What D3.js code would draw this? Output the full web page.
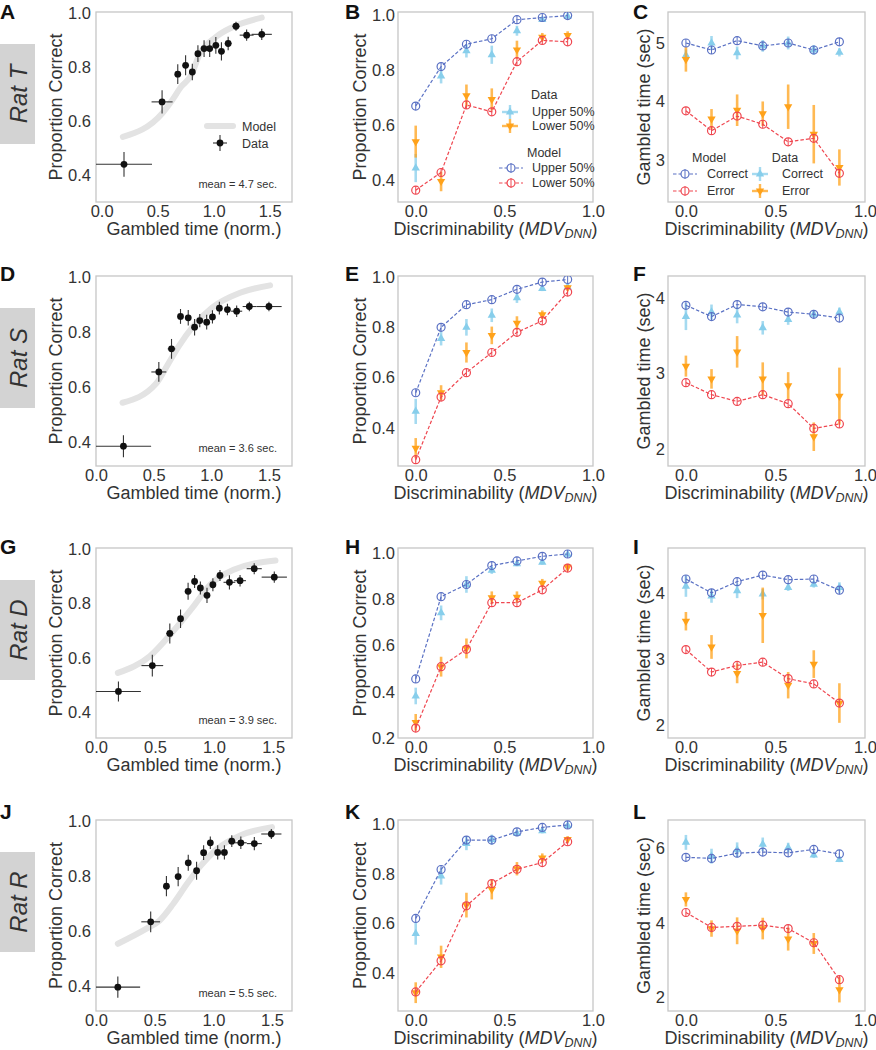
<!DOCTYPE html>
<html>
<head>
<meta charset="utf-8">
<script src="https://cdn.jsdelivr.net/npm/d3@7.9.0/dist/d3.min.js"></script>
<style>
  body { margin: 0; background: #fff; }
  svg text { font-family: "Liberation Sans", Arial, sans-serif; fill: #333; }
</style>
</head>
<body>
<svg id="fig" width="876" height="1050"></svg>
<script>
// ---- shared x values (discriminability bins) ----
const mdv = [0, 0.143, 0.286, 0.429, 0.571, 0.714, 0.857];
const ratNames = ['Rat T', 'Rat S', 'Rat D', 'Rat R'];
const meanTexts = ['mean = 4.7 sec.', 'mean = 3.6 sec.', 'mean = 3.9 sec.', 'mean = 5.5 sec.'];
const panelLetters = [['A', 'B', 'C'], ['D', 'E', 'F'], ['G', 'H', 'I'], ['J', 'K', 'L']];

// ---- Rat T (A, B, C) ----
const tTime = [0.20, 0.54, 0.68, 0.75, 0.81, 0.86, 0.915, 0.965, 1.02, 1.07, 1.13, 1.20, 1.295, 1.43];
const tPc = [0.44, 0.672, 0.775, 0.808, 0.783, 0.851, 0.87, 0.87, 0.882, 0.86, 0.889, 0.953, 0.92, 0.923];
const tTimeErr = [0.25, 0.094, 0.015, 0.015, 0.015, 0.015, 0.015, 0.015, 0.015, 0.015, 0.03, 0.033, 0.062, 0.09];
const tPcErr = [0.046, 0.043, 0.037, 0.037, 0.031, 0.031, 0.031, 0.031, 0.031, 0.034, 0.025, 0.017, 0.021, 0.021];
const tModelX = [0.19, 0.54, 0.63, 0.71, 0.80, 0.87, 1.02, 1.17, 1.43];
const tModelY = [0.542, 0.629, 0.678, 0.728, 0.771, 0.845, 0.913, 0.95, 0.985];

const tUpModel = [0.669, 0.812, 0.893, 0.913, 0.982, 0.99, 0.997];
const tLoModel = [0.364, 0.428, 0.673, 0.648, 0.830, 0.907, 0.902];
const tUpData = [0.444, 0.778, 0.869, 0.855, 0.942, 0.982, 0.994];
const tUpErr = [0.051, 0.027, 0.024, 0.033, 0.018, 0.008, 0.008];
const tLoData = [0.54, 0.396, 0.707, 0.693, 0.873, 0.919, 0.925];
const tLoErr = [0.058, 0.036, 0.04, 0.04, 0.033, 0.015, 0.015];

const tCorModel = [5.0, 4.88, 5.04, 4.95, 5.0, 4.88, 5.02];
const tErrModel = [3.84, 3.50, 3.75, 3.61, 3.31, 3.37, 2.77];
const tCorData = [4.79, 5.0, 4.83, 4.95, 5.0, 4.88, 4.84];
const tCorErr = [0.1, 0.12, 0.11, 0.1, 0.11, 0.085, 0.07];
const tErrData = [4.72, 3.70, 3.85, 3.79, 3.91, 3.44, 2.87];
const tErrErr = [0.21, 0.17, 0.27, 0.21, 0.38, 0.5, 0.31];

// ---- Rat S (D, E, F) ----
const sTime = [0.238, 0.545, 0.655, 0.733, 0.80, 0.855, 0.90, 0.96, 1.01, 1.07, 1.14, 1.22, 1.33, 1.50];
const sPc = [0.385, 0.655, 0.739, 0.857, 0.852, 0.818, 0.842, 0.836, 0.855, 0.887, 0.882, 0.876, 0.893, 0.893];
const sTimeErr = [0.24, 0.065, 0.033, 0.02, 0.02, 0.02, 0.02, 0.02, 0.02, 0.02, 0.02, 0.048, 0.058, 0.11];
const sPcErr = [0.04, 0.036, 0.036, 0.027, 0.028, 0.03, 0.024, 0.027, 0.024, 0.023, 0.021, 0.021, 0.017, 0.017];
const sModelX = [0.23, 0.52, 0.62, 0.72, 0.84, 1.01, 1.25, 1.51];
const sModelY = [0.543, 0.612, 0.68, 0.75, 0.82, 0.89, 0.943, 0.97];

const sUpModel = [0.54, 0.80, 0.89, 0.91, 0.951, 0.98, 0.99];
const sLoModel = [0.274, 0.523, 0.62, 0.70, 0.78, 0.826, 0.94];
const sUpData = [0.466, 0.755, 0.80, 0.848, 0.917, 0.954, 0.96];
const sUpErr = [0.05, 0.027, 0.033, 0.027, 0.02, 0.01, 0.01];
const sLoData = [0.32, 0.54, 0.70, 0.768, 0.817, 0.85, 0.958];
const sLoErr = [0.04, 0.03, 0.04, 0.035, 0.027, 0.017, 0.01];

const sCorModel = [3.91, 3.76, 3.92, 3.89, 3.82, 3.79, 3.74];
const sErrModel = [2.88, 2.72, 2.63, 2.72, 2.60, 2.27, 2.33];
const sCorData = [3.76, 3.82, 3.78, 3.61, 3.72, 3.79, 3.82];
const sCorErr = [0.18, 0.1, 0.11, 0.09, 0.07, 0.05, 0.06];
const sErrData = [3.10, 2.93, 3.29, 2.93, 2.84, 2.16, 2.70];
const sErrErr = [0.14, 0.13, 0.21, 0.22, 0.18, 0.19, 0.38];

// ---- Rat D (G, H, I) ----
const dTime = [0.19, 0.477, 0.625, 0.716, 0.78, 0.835, 0.884, 0.94, 0.99, 1.05, 1.13, 1.22, 1.34, 1.51];
const dPc = [0.477, 0.572, 0.69, 0.744, 0.845, 0.881, 0.857, 0.83, 0.869, 0.903, 0.878, 0.884, 0.928, 0.897];
const dTimeErr = [0.19, 0.092, 0.03, 0.02, 0.02, 0.02, 0.02, 0.02, 0.02, 0.02, 0.05, 0.05, 0.064, 0.107];
const dPcErr = [0.037, 0.04, 0.037, 0.034, 0.031, 0.024, 0.024, 0.028, 0.024, 0.02, 0.026, 0.021, 0.02, 0.021];
const dModelX = [0.185, 0.455, 0.653, 0.824, 0.966, 1.165, 1.52];
const dModelY = [0.545, 0.606, 0.698, 0.789, 0.869, 0.924, 0.958];

const dUpModel = [0.456, 0.812, 0.865, 0.947, 0.967, 0.987, 0.997];
const dLoModel = [0.243, 0.509, 0.584, 0.786, 0.786, 0.842, 0.936];
const dUpData = [0.382, 0.742, 0.865, 0.926, 0.954, 0.961, 0.995];
const dUpErr = [0.036, 0.032, 0.036, 0.015, 0.01, 0.01, 0.008];
const dLoData = [0.268, 0.509, 0.588, 0.808, 0.81, 0.871, 0.94];
const dLoErr = [0.036, 0.043, 0.043, 0.027, 0.025, 0.018, 0.015];

const dCorModel = [4.22, 4.01, 4.18, 4.28, 4.21, 4.22, 4.05];
const dErrModel = [3.15, 2.81, 2.91, 2.96, 2.71, 2.63, 2.34];
const dCorData = [4.11, 3.96, 4.04, 3.99, 4.09, 4.14, 4.09];
const dCorErr = [0.16, 0.1, 0.11, 0.08, 0.05, 0.05, 0.08];
const dErrData = [3.58, 3.19, 2.79, 3.67, 2.61, 2.93, 2.34];
const dErrErr = [0.14, 0.18, 0.15, 0.42, 0.2, 0.21, 0.3];

// ---- Rat R (J, K, L) ----
const rTime = [0.186, 0.466, 0.60, 0.70, 0.786, 0.857, 0.917, 0.974, 1.037, 1.094, 1.157, 1.234, 1.349, 1.494];
const rPc = [0.397, 0.635, 0.765, 0.80, 0.85, 0.821, 0.887, 0.923, 0.888, 0.888, 0.929, 0.923, 0.92, 0.955];
const rTimeErr = [0.19, 0.08, 0.02, 0.02, 0.02, 0.02, 0.02, 0.02, 0.02, 0.02, 0.03, 0.05, 0.064, 0.086];
const rPcErr = [0.039, 0.038, 0.037, 0.035, 0.029, 0.033, 0.027, 0.023, 0.026, 0.026, 0.021, 0.023, 0.024, 0.018];
const rModelX = [0.186, 0.43, 0.543, 0.657, 0.77, 0.886, 1.03, 1.23, 1.5];
const rModelY = [0.555, 0.61, 0.64, 0.70, 0.77, 0.836, 0.90, 0.95, 0.98];

const rUpModel = [0.62, 0.818, 0.937, 0.937, 0.97, 0.988, 0.998];
const rLoModel = [0.323, 0.449, 0.671, 0.761, 0.819, 0.846, 0.93];
const rUpData = [0.559, 0.791, 0.923, 0.939, 0.964, 0.974, 0.995];
const rUpErr = [0.045, 0.034, 0.027, 0.02, 0.012, 0.01, 0.008];
const rLoData = [0.32, 0.465, 0.674, 0.737, 0.821, 0.865, 0.94];
const rLoErr = [0.042, 0.045, 0.05, 0.04, 0.027, 0.018, 0.013];

const rCorModel = [5.76, 5.73, 5.87, 5.90, 5.88, 5.97, 5.85];
const rErrModel = [4.28, 3.88, 3.91, 3.94, 3.85, 3.47, 2.48];
const rCorData = [6.16, 5.79, 5.96, 6.11, 6.02, 5.82, 5.70];
const rCorErr = [0.2, 0.2, 0.2, 0.18, 0.13, 0.08, 0.07];
const rErrData = [4.63, 3.85, 3.79, 3.85, 3.57, 3.45, 2.21];
const rErrErr = [0.19, 0.22, 0.36, 0.29, 0.31, 0.28, 0.34];

// ---- axis ranges and ticks ----
const gambleXDom = [[-0.05, 1.70], [0, 1.70], [0, 1.66], [0, 1.67]];
const gambleYDom = [[0.30, 1.006], [0.313, 1.004], [0.306, 1.004], [0.31, 1.006]];
const splitYDom = [[0.321, 1.01], [0.249, 1.004], [0.2, 1.023], [0.246, 1.018]];
const timeYDom = [[2.28, 5.53], [1.77, 4.30], [1.81, 4.69], [1.64, 6.76]];
const gambleXTicks = [0, 0.5, 1.0, 1.5];
const mdvTicks = [0, 0.5, 1.0];
const pcTicks = [[0.4, 0.6, 0.8, 1.0], [0.4, 0.6, 0.8, 1.0], [0.4, 0.6, 0.8, 1.0], [0.4, 0.6, 0.8, 1.0]];
const splitTicks = [[0.4, 0.6, 0.8, 1.0], [0.4, 0.6, 0.8, 1.0], [0.2, 0.4, 0.6, 0.8, 1.0], [0.4, 0.6, 0.8, 1.0]];
const timeTicks = [[3, 4, 5], [2, 3, 4], [2, 3, 4], [2, 4, 6]];

// Layout
const svg = d3.select('#fig');
const colX = [[96, 292], [398, 593], [668, 865]];
const rowY = [[12, 202], [276, 466], [548, 738], [820, 1011]];
const letterX = [0, 345, 633];
const letterBase = [19, 281, 554, 819];
const BLUE = '#5a71c4', RED = '#ef4750', SKY = '#87ceeb', ORANGE = '#ffa21a';
const fmt1 = d3.format('.1f');

let clipCount = 0;
function makePanel(col, row, xDom, yDom, xTicks, yTicks, yFmt) {
  const [x0, x1] = colX[col];
  const [y0, y1] = rowY[row];
  const x = d3.scaleLinear().domain(xDom).range([x0, x1]);
  const y = d3.scaleLinear().domain(yDom).range([y1, y0]);
  const g = svg.append('g');
  const id = 'clip' + (clipCount++);
  svg.append('clipPath').attr('id', id)
    .append('rect').attr('x', x0).attr('y', y0).attr('width', x1 - x0).attr('height', y1 - y0);

  g.append('g')
    .attr('transform', `translate(0,${y1})`)
    .call(d3.axisBottom(x).tickValues(xTicks).tickFormat(fmt1).tickSize(0).tickPadding(3))
    .call(a => a.select('.domain').remove());
  g.append('g')
    .attr('transform', `translate(${x0},0)`)
    .call(d3.axisLeft(y).tickValues(yTicks).tickFormat(yFmt).tickSize(0).tickPadding(col === 0 ? 5 : 3))
    .call(a => a.select('.domain').remove());
  g.selectAll('.tick text').attr('font-size', 16.5);

  g.append('rect')
    .attr('x', x0).attr('y', y0).attr('width', x1 - x0).attr('height', y1 - y0)
    .attr('fill', 'none').attr('stroke', '#c6c6c6').attr('stroke-width', 1.3);

  const plot = g.append('g').attr('clip-path', `url(#${id})`);
  return { x, y, g, plot, x0, x1, y0, y1 };
}

function yTitle(p, text, offset) {
  p.g.append('text')
    .attr('transform', `translate(${p.x0 - offset},${(p.y0 + p.y1) / 2}) rotate(-90)`)
    .attr('text-anchor', 'middle').attr('font-size', 18)
    .text(text);
}

function xTitleGamble(p) {
  p.g.append('text')
    .attr('x', (p.x0 + p.x1) / 2).attr('y', p.y1 + 33)
    .attr('text-anchor', 'middle').attr('font-size', 18)
    .text('Gambled time (norm.)');
}

function xTitleMdv(p) {
  const t = p.g.append('text')
    .attr('x', (p.x0 + p.x1) / 2).attr('y', p.y1 + 33)
    .attr('text-anchor', 'middle').attr('font-size', 18);
  t.append('tspan').text('Discriminability (');
  t.append('tspan').attr('font-style', 'italic').text('MDV');
  t.append('tspan').attr('font-style', 'italic').attr('font-size', 12.5).attr('dy', 3).text('DNN');
  t.append('tspan').attr('dy', -3).text(')');
}

// Column 1: proportion correct vs gambled time
function drawGamble(p, time, pc, timeErr, pcErr, modelX, modelY, mean) {
  const line = d3.line().x(d => p.x(d[0])).y(d => p.y(d[1])).curve(d3.curveMonotoneX);
  p.plot.append('path')
    .datum(d3.zip(modelX, modelY))
    .attr('d', line)
    .attr('fill', 'none').attr('stroke', '#e3e3e3')
    .attr('stroke-width', 6).attr('stroke-linecap', 'round');

  const pts = time.map((t, i) => ({ x: t, y: pc[i], ex: timeErr[i], ey: pcErr[i] }));
  const sel = p.plot.selectAll('g.pt').data(pts).join('g').attr('class', 'pt');
  sel.append('line')
    .attr('x1', d => p.x(d.x - d.ex)).attr('x2', d => p.x(d.x + d.ex))
    .attr('y1', d => p.y(d.y)).attr('y2', d => p.y(d.y))
    .attr('stroke', '#333').attr('stroke-width', 1.1);
  sel.append('line')
    .attr('x1', d => p.x(d.x)).attr('x2', d => p.x(d.x))
    .attr('y1', d => p.y(d.y - d.ey)).attr('y2', d => p.y(d.y + d.ey))
    .attr('stroke', '#333').attr('stroke-width', 1.1);
  sel.append('circle')
    .attr('cx', d => p.x(d.x)).attr('cy', d => p.y(d.y)).attr('r', 3.4)
    .attr('fill', '#111');

  p.g.append('text')
    .attr('x', p.x1 - 15).attr('y', p.y1 - 14)
    .attr('text-anchor', 'end').attr('font-size', 11)
    .text(mean);
}

const triUp = d3.symbol(d3.symbolTriangle, 30)();

function dataMarks(p, xs, vals, errs, color, up) {
  const pts = xs.map((x, i) => ({ x, y: vals[i], e: errs[i] }));
  const g = p.plot.append('g');
  g.selectAll('line').data(pts).join('line')
    .attr('x1', d => p.x(d.x)).attr('x2', d => p.x(d.x))
    .attr('y1', d => p.y(d.y - d.e)).attr('y2', d => p.y(d.y + d.e))
    .attr('stroke', color).attr('stroke-width', 2.6).attr('stroke-opacity', 0.75);
  g.selectAll('path').data(pts).join('path')
    .attr('d', triUp)
    .attr('transform', d => `translate(${p.x(d.x)},${p.y(d.y)}) rotate(${up ? 0 : 180})`)
    .attr('fill', color);
}

function modelMarks(p, xs, vals, color) {
  const pts = xs.map((x, i) => [x, vals[i]]);
  const g = p.plot.append('g');
  g.append('path')
    .datum(pts)
    .attr('d', d3.line().x(d => p.x(d[0])).y(d => p.y(d[1])))
    .attr('fill', 'none').attr('stroke', color)
    .attr('stroke-width', 1.2).attr('stroke-dasharray', '3.5,2');
  g.selectAll('circle').data(pts).join('circle')
    .attr('cx', d => p.x(d[0])).attr('cy', d => p.y(d[1])).attr('r', 4)
    .attr('fill', 'none').attr('stroke', color).attr('stroke-width', 1.2);
  g.selectAll('line').data(pts).join('line')
    .attr('x1', d => p.x(d[0])).attr('x2', d => p.x(d[0]))
    .attr('y1', d => p.y(d[1]) - 4).attr('y2', d => p.y(d[1]) + 4)
    .attr('stroke', color).attr('stroke-width', 1);
}

function drawSplit(p, hiModel, loModel, hiData, hiErr, loData, loErr) {
  dataMarks(p, mdv, hiData, hiErr, SKY, true);
  dataMarks(p, mdv, loData, loErr, ORANGE, false);
  modelMarks(p, mdv, hiModel, BLUE);
  modelMarks(p, mdv, loModel, RED);
}

// Legend pieces
function legendData(g, cx, cy, color, up) {
  g.append('line').attr('x1', cx - 8).attr('x2', cx + 8).attr('y1', cy).attr('y2', cy)
    .attr('stroke', color).attr('stroke-width', 2.4).attr('stroke-opacity', 0.75);
  g.append('line').attr('x1', cx).attr('x2', cx).attr('y1', cy - 7).attr('y2', cy + 7)
    .attr('stroke', color).attr('stroke-width', 2.4).attr('stroke-opacity', 0.75);
  g.append('path').attr('d', triUp)
    .attr('transform', `translate(${cx},${cy}) rotate(${up ? 0 : 180})`)
    .attr('fill', color);
}

function legendModel(g, xa, xb, cy, color) {
  g.append('line').attr('x1', xa).attr('x2', xb).attr('y1', cy).attr('y2', cy)
    .attr('stroke', color).attr('stroke-width', 1.2).attr('stroke-dasharray', '3.5,2');
  const cx = (xa + xb) / 2;
  g.append('circle').attr('cx', cx).attr('cy', cy).attr('r', 4)
    .attr('fill', '#fff').attr('stroke', color).attr('stroke-width', 1.2);
  g.append('line').attr('x1', cx).attr('x2', cx).attr('y1', cy - 5).attr('y2', cy + 5)
    .attr('stroke', color).attr('stroke-width', 1);
}

function legendText(g, x, y, text, anchor) {
  g.append('text').attr('x', x).attr('y', y).attr('font-size', 12.5)
    .attr('text-anchor', anchor || 'start').text(text);
}

// ---- build all rows ----
const rowsData = [
  { time: tTime, pc: tPc, timeErr: tTimeErr, pcErr: tPcErr, mX: tModelX, mY: tModelY,
    hiM: tUpModel, loM: tLoModel, hiD: tUpData, hiE: tUpErr, loD: tLoData, loE: tLoErr,
    cM: tCorModel, eM: tErrModel, cD: tCorData, cE: tCorErr, eD: tErrData, eE: tErrErr },
  { time: sTime, pc: sPc, timeErr: sTimeErr, pcErr: sPcErr, mX: sModelX, mY: sModelY,
    hiM: sUpModel, loM: sLoModel, hiD: sUpData, hiE: sUpErr, loD: sLoData, loE: sLoErr,
    cM: sCorModel, eM: sErrModel, cD: sCorData, cE: sCorErr, eD: sErrData, eE: sErrErr },
  { time: dTime, pc: dPc, timeErr: dTimeErr, pcErr: dPcErr, mX: dModelX, mY: dModelY,
    hiM: dUpModel, loM: dLoModel, hiD: dUpData, hiE: dUpErr, loD: dLoData, loE: dLoErr,
    cM: dCorModel, eM: dErrModel, cD: dCorData, cE: dCorErr, eD: dErrData, eE: dErrErr },
  { time: rTime, pc: rPc, timeErr: rTimeErr, pcErr: rPcErr, mX: rModelX, mY: rModelY,
    hiM: rUpModel, loM: rLoModel, hiD: rUpData, hiE: rUpErr, loD: rLoData, loE: rLoErr,
    cM: rCorModel, eM: rErrModel, cD: rCorData, cE: rCorErr, eD: rErrData, eE: rErrErr }
];

const panels = [];
rowsData.forEach((r, row) => {
  // rat name tab
  const tabTop = rowY[row][0] + 32;
  svg.append('rect').attr('x', 0).attr('y', tabTop).attr('width', 35).attr('height', 100)
    .attr('fill', '#d3d3d3');
  svg.append('text')
    .attr('transform', `translate(27,${tabTop + 50}) rotate(-90)`)
    .attr('text-anchor', 'middle').attr('font-size', 24).attr('font-style', 'italic')
    .text(ratNames[row]);

  const pA = makePanel(0, row, gambleXDom[row], gambleYDom[row], gambleXTicks, pcTicks[row], fmt1);
  drawGamble(pA, r.time, r.pc, r.timeErr, r.pcErr, r.mX, r.mY, meanTexts[row]);
  yTitle(pA, 'Proportion Correct', 34.5);
  xTitleGamble(pA);

  const pB = makePanel(1, row, [-0.1, 1.0], splitYDom[row], mdvTicks, splitTicks[row], fmt1);
  drawSplit(pB, r.hiM, r.loM, r.hiD, r.hiE, r.loD, r.loE);
  yTitle(pB, 'Proportion Correct', 32.5);
  xTitleMdv(pB);

  const pC = makePanel(2, row, [-0.1, 1.0], timeYDom[row], mdvTicks, timeTicks[row], d3.format('d'));
  drawSplit(pC, r.cM, r.eM, r.cD, r.cE, r.eD, r.eE);
  yTitle(pC, 'Gambled time (sec)', 18);
  xTitleMdv(pC);

  panels.push([pA, pB, pC]);

  panelLetters[row].forEach((L, c) => {
    svg.append('text').attr('x', letterX[c]).attr('y', letterBase[row])
      .attr('font-size', 21).attr('font-weight', 'bold')
      .style('fill', '#111').text(L);
  });
});

// ---- legends (row 1 only) ----
{
  const p = panels[0][0];
  const g = p.g.append('g');
  g.append('line').attr('x1', p.x0 + 111).attr('x2', p.x0 + 137)
    .attr('y1', p.y0 + 114).attr('y2', p.y0 + 114)
    .attr('stroke', '#e3e3e3').attr('stroke-width', 6).attr('stroke-linecap', 'round');
  legendText(g, p.x0 + 146, p.y0 + 119, 'Model');
  const cx = p.x0 + 124, cy = p.y0 + 131;
  g.append('line').attr('x1', cx - 7).attr('x2', cx + 7).attr('y1', cy).attr('y2', cy)
    .attr('stroke', '#333').attr('stroke-width', 1.1);
  g.append('line').attr('x1', cx).attr('x2', cx).attr('y1', cy - 8).attr('y2', cy + 8)
    .attr('stroke', '#333').attr('stroke-width', 1.1);
  g.append('circle').attr('cx', cx).attr('cy', cy).attr('r', 3.4).attr('fill', '#111');
  legendText(g, p.x0 + 146, p.y0 + 136, 'Data');
}
{
  const p = panels[0][1];
  const g = p.g.append('g');
  legendText(g, p.x0 + 133, p.y0 + 87, 'Data');
  legendData(g, p.x0 + 112, p.y0 + 100, SKY, true);
  legendText(g, p.x0 + 134, p.y0 + 104, 'Upper 50%');
  legendData(g, p.x0 + 112, p.y0 + 114, ORANGE, false);
  legendText(g, p.x0 + 134, p.y0 + 118, 'Lower 50%');
  legendText(g, p.x0 + 129, p.y0 + 145, 'Model');
  legendModel(g, p.x0 + 101, p.x0 + 125, p.y0 + 156, BLUE);
  legendText(g, p.x0 + 134, p.y0 + 160, 'Upper 50%');
  legendModel(g, p.x0 + 101, p.x0 + 125, p.y0 + 171, RED);
  legendText(g, p.x0 + 134, p.y0 + 175, 'Lower 50%');
}
{
  const p = panels[0][2];
  const g = p.g.append('g');
  legendText(g, p.x0 + 41, p.y0 + 150, 'Model', 'middle');
  legendText(g, p.x0 + 117, p.y0 + 150, 'Data', 'middle');
  legendModel(g, p.x0 + 5, p.x0 + 29, p.y0 + 162, BLUE);
  legendText(g, p.x0 + 39, p.y0 + 166, 'Correct');
  legendModel(g, p.x0 + 5, p.x0 + 29, p.y0 + 179, RED);
  legendText(g, p.x0 + 39, p.y0 + 183, 'Error');
  legendData(g, p.x0 + 92, p.y0 + 162, SKY, true);
  legendText(g, p.x0 + 114, p.y0 + 166, 'Correct');
  legendData(g, p.x0 + 92, p.y0 + 179, ORANGE, false);
  legendText(g, p.x0 + 114, p.y0 + 183, 'Error');
}
</script>
</body>
</html>
